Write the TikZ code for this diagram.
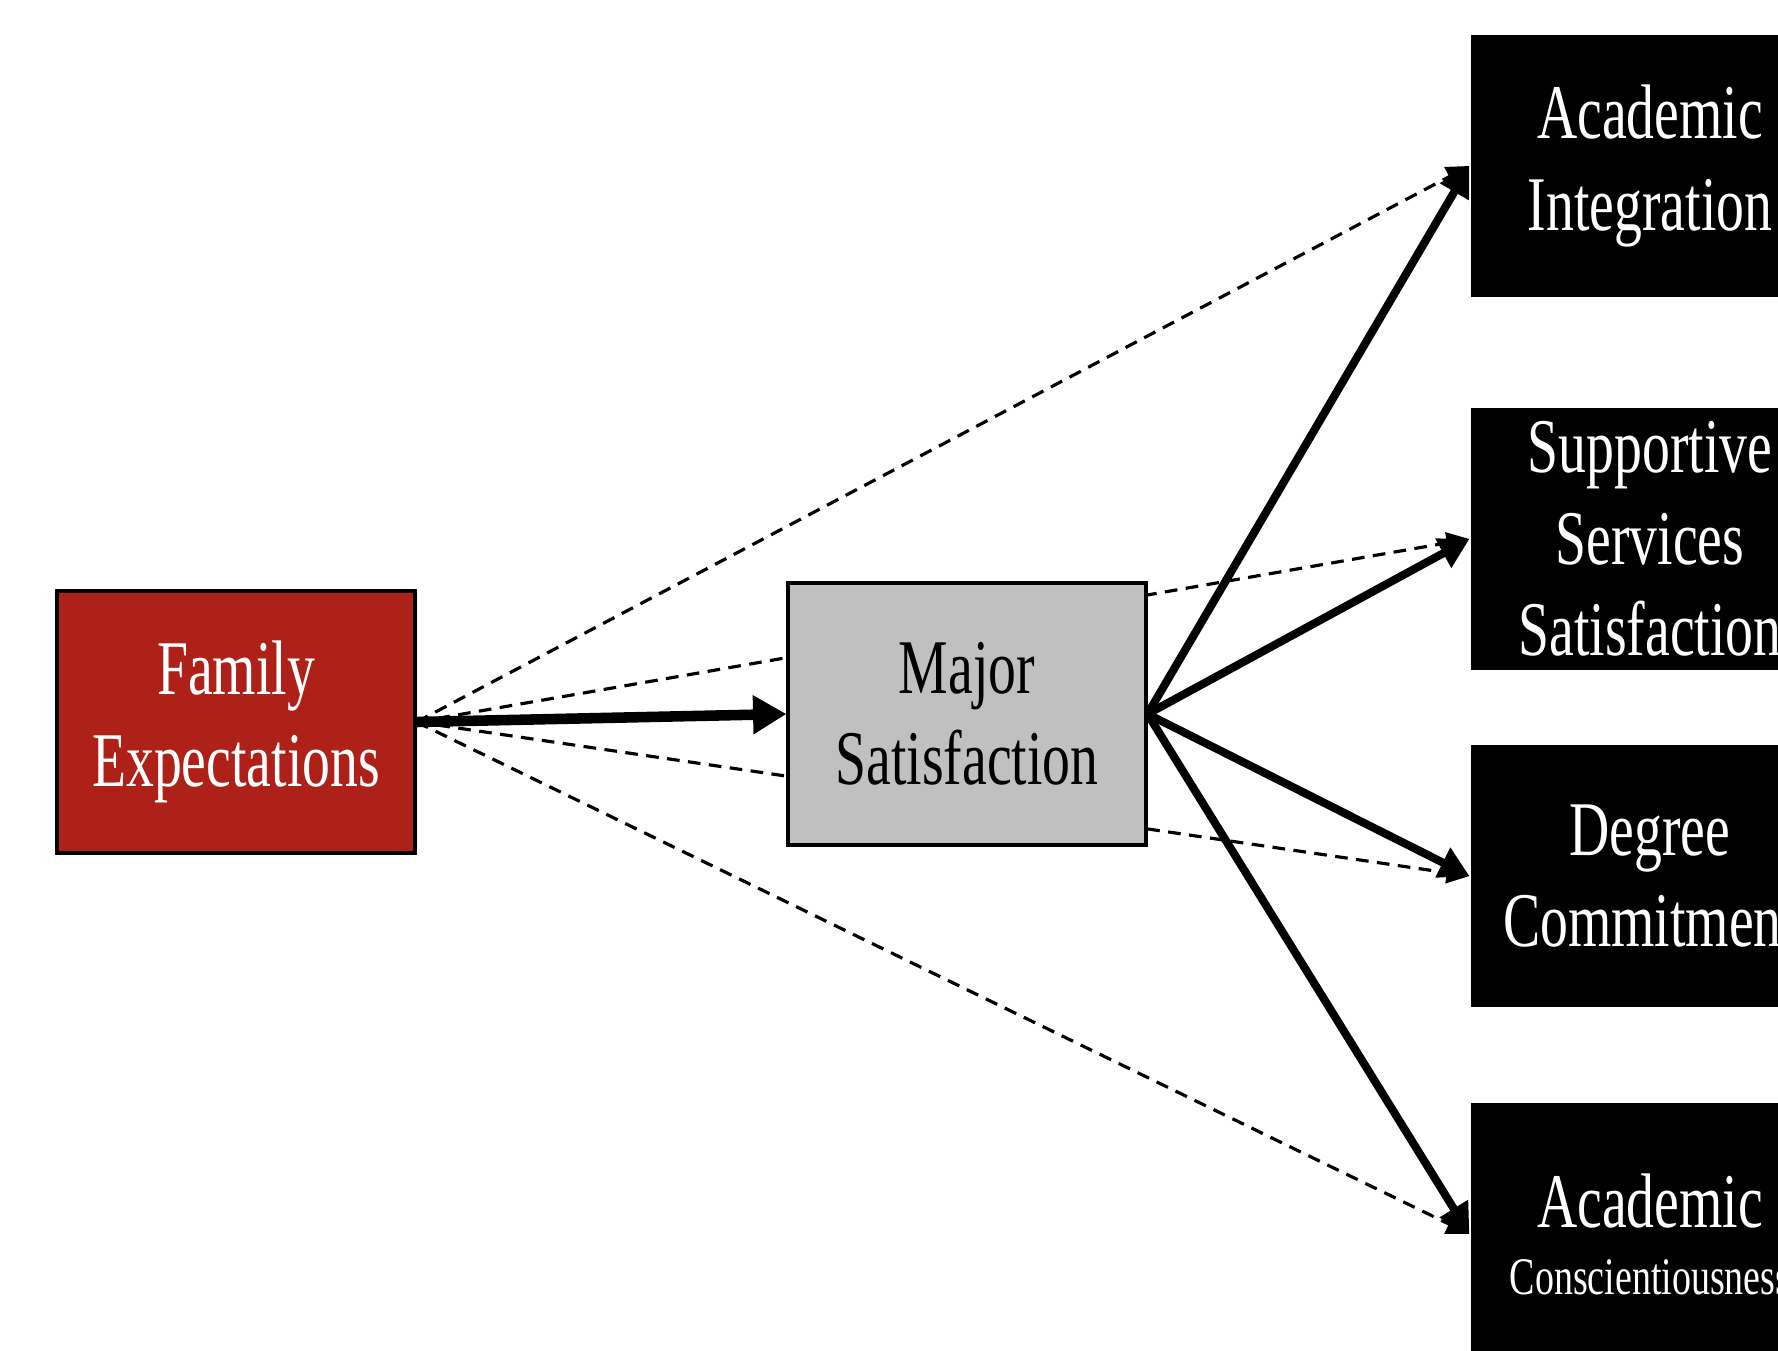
\documentclass[tikz,border=0pt]{standalone}
\usepackage{fontspec}
\setmainfont{Liberation Serif}
\newfontfamily\boxfont{Liberation Serif}[FakeStretch=0.72]
\usetikzlibrary{arrows.meta, positioning}
\definecolor{famred}{RGB}{174,33,24}
\definecolor{majgray}{RGB}{192,192,192}

\begin{document}
\begin{tikzpicture}[x=0.01cm, y=-0.01cm,
        var/.style={draw, rectangle, line width=1.1pt, minimum width=3.57cm, minimum height=2.61cm, align=center, font=\boxfont\fontsize{22}{26}\selectfont, inner sep=0pt},
        famvar/.style={var, fill=famred, text=white},
        medvar/.style={var, fill=majgray},
        outvar/.style={var, draw=none, fill=black, text=white},
        direct/.style={line width=0.9pt, dash pattern=on 3.6pt off 2.4pt, -{Triangle[length=6.5pt, width=6pt]}},
        effect/.style={line width=2.3pt, -{Triangle[length=8.5pt, width=9pt]}}
    ]
        \useasboundingbox (0,0) rectangle (1778,1351);
        \clip (0,0) rectangle (1778,1351);

        \node[famvar] (fam)   at (236,722)  {Family\\Expectations};
        \node[outvar] (acint) at (1650,166) {Academic\\Integration};
        \node[outvar] (supp)  at (1650,539) {Supportive\\Services\\Satisfaction};
        \node[outvar] (degr)  at (1650,876) {Degree\\Commitment};
        \node[outvar] (acons) at (1650,1234) {Academic\\[-7pt]{\fontsize{15}{18}\selectfont Conscientiousness}};

        \draw[direct] (fam.east) -- (acint.west);
        \draw[direct] (fam.east) -- (supp.west);
        \draw[direct] (fam.east) -- (degr.west);
        \draw[direct] (fam.east) -- (acons.west);

        \node[medvar] (maj) at (967,714) {Major\\Satisfaction};

        \draw[effect, line width=3pt, -{Triangle[length=9.5pt, width=10.5pt]}] (fam.east) -- (maj.west);
        \draw[effect] (maj.east) -- (acint.west);
        \draw[effect] (maj.east) -- (supp.west);
        \draw[effect] (maj.east) -- (degr.west);
        \draw[effect] (maj.east) -- (acons.west);
    \end{tikzpicture}
\end{document}
